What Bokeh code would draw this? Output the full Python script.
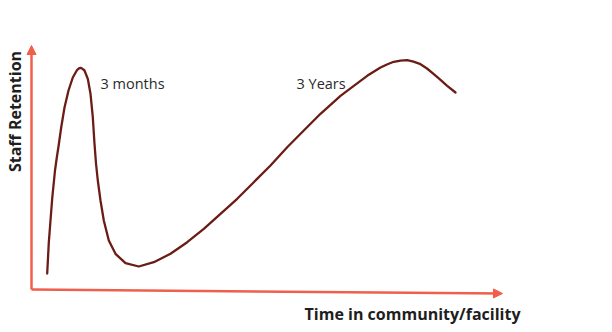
from bokeh.plotting import figure
from bokeh.models import Range1d, Arrow, NormalHead, Label
from bokeh.embed import file_html
from bokeh.resources import INLINE

# Curve (time units along the x axis, retention units up the y axis)
time = [15.7, 17.3, 19, 20.7, 22, 23.5, 25.3, 27, 29.7, 33, 37, 41.3, 45.7, 47.5, 49, 51,
        53, 56.3, 59, 61.3, 63, 64.5, 66.3, 69, 72.3, 77.3, 84, 94, 107.3, 122.3,
        139, 155.7, 172.3, 189, 205.7, 222.3, 239, 255.7, 272.3, 289, 309,
        322.3, 335.7, 349, 356, 362.3, 369, 375.7, 382, 389, 395.5, 402.3, 409, 415.7, 424]
retention = [16, 47, 69, 91, 104, 119, 132, 143, 162, 182, 199, 212, 219.7, 221.2, 221.7, 220.7,
             219, 210.7, 195.7, 172.3, 145.7, 126, 109, 89, 69, 49, 35.7, 26.3, 23, 27.3,
             35.7, 47.3, 60.7, 75.7, 90.7, 107.3, 124, 142.3, 159, 175.7, 193.7,
             203.7, 213.7, 222, 225.3, 227.7, 228.8, 229.3, 227.8, 225.3, 221, 215.3, 209.7,
             203.7, 197]

x_axis_end = [471, -4]
y_axis_end = [0, 244]

labels = {"peak1": "3 months", "peak2": "3 Years"}
label_pos = {"peak1": (69, 206), "peak2": (265, 206)}
x_title = "Time in community/facility"
y_title = "Staff Retention"

AXIS = "#f05f4b"
CURVE = "#6b1d15"
FONT = "Open Sans"

p = figure(width=612, height=332, output_backend="svg", toolbar_location=None,
           x_range=Range1d(-31, 581), y_range=Range1d(-43, 289), min_border=0,
           x_axis_location=None, y_axis_location=None)
p.grid.visible = False
p.outline_line_color = None
p.background_fill_color = "white"
p.border_fill_color = "white"

p.line(time, retention, line_color=CURVE, line_width=2.3, line_cap="round",
       line_join="round")

p.add_layout(Arrow(end=NormalHead(size=9, fill_color=AXIS, line_color=AXIS),
                   x_start=0, y_start=0, x_end=x_axis_end[0], y_end=x_axis_end[1],
                   line_color=AXIS, line_width=2.5))
p.add_layout(Arrow(end=NormalHead(size=9, fill_color=AXIS, line_color=AXIS),
                   x_start=0, y_start=0, x_end=y_axis_end[0], y_end=y_axis_end[1],
                   line_color=AXIS, line_width=2.5))

for k in labels:
    p.add_layout(Label(x=label_pos[k][0], y=label_pos[k][1], text=labels[k],
                       text_font=FONT, text_font_size="14.5px", text_color="#2b2b2b",
                       text_baseline="middle", text_align="left"))

p.add_layout(Label(x=489, y=-24, text=x_title, text_font=FONT,
                   text_font_style="bold", text_font_size="16px", text_color="#1e1e1e",
                   text_baseline="middle", text_align="right"))
p.add_layout(Label(x=-16.5, y=178, text=y_title, text_font=FONT, angle=1.5708,
                   text_font_style="bold", text_font_size="16px", text_color="#1e1e1e",
                   text_baseline="middle", text_align="center"))

open("out.html", "w").write(file_html(p, INLINE))
